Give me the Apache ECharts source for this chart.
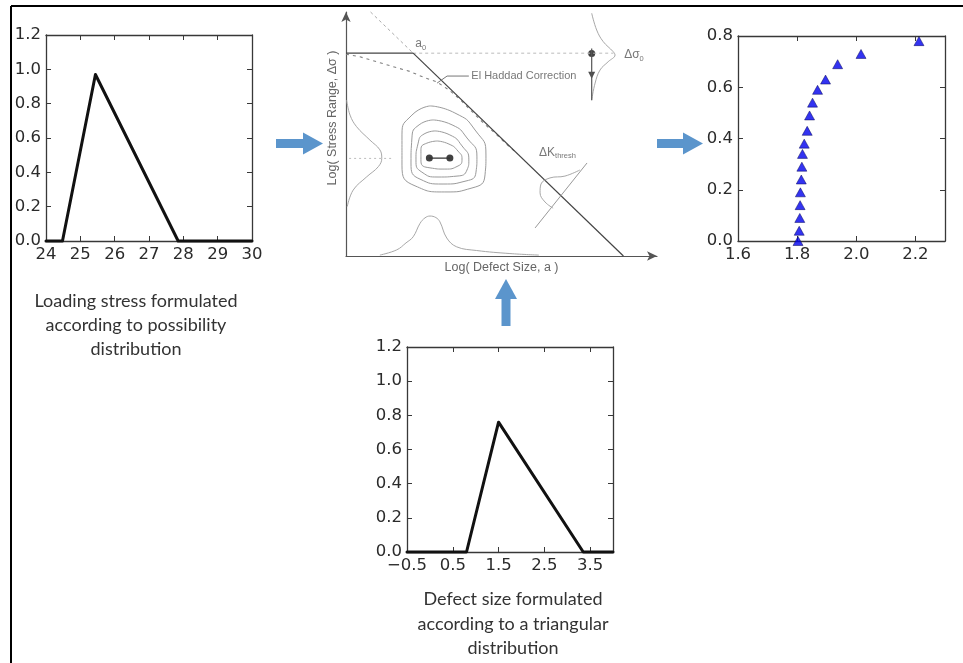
<!DOCTYPE html>
<html>
<head>
<meta charset="utf-8">
<script src="https://cdn.jsdelivr.net/npm/echarts@6/dist/echarts.min.js"></script>
<style>
  html, body { margin: 0; padding: 0; background: #fff; }
  #chart { width: 963px; height: 663px; }
</style>
</head>
<body>
<div id="chart"></div>
<script>
// ---- Loading stress: possibility distribution ----
const stressX = [24, 24.48, 25.44, 27.85, 30];
const stressY = [0, 0, 0.97, 0, 0];
const stressTicksX = [24, 25, 26, 27, 28, 29, 30];
const membershipTicks = [0, 0.2, 0.4, 0.6, 0.8, 1.0, 1.2];

// ---- Defect size: triangular distribution ----
const defectX = [-0.5, 0.8, 1.5, 3.35, 4.0];
const defectY = [0, 0, 0.76, 0, 0];
const defectTicksX = [-0.5, 0.5, 1.5, 2.5, 3.5];

// ---- Output: membership level vs. result ----
const resultX = [1.803, 1.807, 1.809, 1.810, 1.811, 1.814, 1.816, 1.818, 1.824, 1.834, 1.842, 1.852, 1.869, 1.896, 1.937, 2.016, 2.212];
const resultY = [0, 0.04, 0.09, 0.14, 0.19, 0.24, 0.29, 0.34, 0.38, 0.43, 0.49, 0.54, 0.59, 0.63, 0.69, 0.73, 0.78];
const resultTicksX = [1.6, 1.8, 2.0, 2.2];
const resultTicksY = [0, 0.2, 0.4, 0.6, 0.8];

// ---- Kitagawa-Takahashi schematic (log a, log stress range), arbitrary units ----
const ktPlateau = [[0, 6.65], [2.16, 6.65]];
const ktThreshold = [[2.16, 6.65], [8.92, 0]];
const ktExtension = [[0.79, 8.0], [2.16, 6.65]];
const ktGuide = [[2.16, 6.65], [8.6, 6.65]];
const elHaddad = [[0, 6.62], [0.45, 6.53], [0.99, 6.37], [1.51, 6.21], [2.06, 6.05], [2.54, 5.84], [2.92, 5.71],
  [3.34, 5.42], [3.67, 5.13], [3.99, 4.80], [4.41, 4.37], [4.85, 3.97], [5.17, 3.66], [5.5, 3.36]];
const elHaddadLeader = [[2.93, 5.67], [3.25, 5.90], [3.95, 5.90]];
const contour1 = [[2.70, 4.92], [3.50, 4.69], [4.15, 4.13], [4.50, 3.31], [4.47, 2.66], [4.05, 2.23], [3.18, 2.10], [2.22, 2.30], [1.80, 2.98], [1.80, 3.97], [2.12, 4.62], [2.70, 4.92]];
const contour2 = [[2.80, 4.46], [3.41, 4.30], [3.89, 3.87], [4.21, 3.25], [4.18, 2.75], [3.86, 2.46], [3.12, 2.36], [2.38, 2.52], [2.09, 3.05], [2.12, 3.87], [2.35, 4.30], [2.80, 4.46]];
const contour3 = [[2.86, 4.10], [3.34, 3.97], [3.73, 3.61], [3.95, 3.15], [3.89, 2.82], [3.57, 2.62], [2.96, 2.59], [2.44, 2.75], [2.25, 3.15], [2.32, 3.70], [2.51, 4.00], [2.86, 4.10]];
const contour4 = [[2.93, 3.77], [3.31, 3.67], [3.60, 3.44], [3.73, 3.18], [3.60, 2.95], [3.18, 2.85], [2.70, 2.89], [2.41, 3.11], [2.41, 3.48], [2.60, 3.70], [2.93, 3.77]];
const stressBell = [[0.02, 5.11], [0.13, 4.62], [0.34, 4.24], [0.77, 3.80], [1.09, 3.48], [1.15, 3.20], [1.04, 2.93], [0.67, 2.60], [0.23, 2.16], [0.04, 1.62]];
const stressGuide = [[0.1, 3.2], [1.5, 3.2]];
const defectBell = [[1.09, 0.03], [1.63, 0.20], [1.93, 0.43], [2.16, 0.63], [2.38, 1.07], [2.54, 1.25], [2.70, 1.31], [2.89, 1.26], [3.02, 1.12], [3.24, 0.59], [3.56, 0.30], [4.20, 0.18], [5.27, 0.08], [6.2, 0.03]];
const plateauBell = [[7.90, 7.96], [8.06, 7.41], [8.27, 7.03], [8.59, 6.70], [8.65, 6.59], [8.43, 6.37], [8.17, 6.10], [8.01, 5.67], [7.90, 5.11]];
const plateauAxis = [[7.90, 6.80], [7.90, 5.11]];
const thresholdAxis = [[6.08, 0.92], [7.75, 3.05]];
const thresholdBell = [[7.52, 2.82], [7.04, 2.62], [6.56, 2.56], [6.27, 2.36], [6.24, 2.07], [6.40, 1.77], [6.66, 1.57]];
const meanShift = [[2.68, 3.21], [3.34, 3.21]];
const plateauMarker = [[7.90, 6.64]];
const plateauArrow = [[7.90, 5.93]];

const zip = (xs, ys) => xs.map((x, i) => [x, ys[i]]);
const fmt1 = v => v.toFixed(1).replace('-', '\u2212');

const axisColor = '#383838';
function panelAxes(g, xr, yr, xTicks, yTicks, xFmt, yFmt) {
  const line = { show: true, onZero: false, lineStyle: { color: axisColor, width: 1.3 } };
  const tick = vals => ({ show: true, inside: true, length: 5, customValues: vals, lineStyle: { color: axisColor, width: 1 } });
  const label = (vals, f) => ({ show: true, customValues: vals, formatter: f, fontFamily: 'DejaVu Sans', fontSize: 16.5, color: '#2b2b2b', margin: 5 });
  return {
    x: [
      { gridIndex: g, type: 'value', min: xr[0], max: xr[1], position: 'bottom', axisLine: line, axisTick: tick(xTicks), axisLabel: label(xTicks, xFmt), splitLine: { show: false } },
      { gridIndex: g, type: 'value', min: xr[0], max: xr[1], position: 'top', axisLine: line, axisTick: tick(xTicks), axisLabel: { show: false }, splitLine: { show: false } }
    ],
    y: [
      { gridIndex: g, type: 'value', min: yr[0], max: yr[1], position: 'left', axisLine: line, axisTick: tick(yTicks), axisLabel: label(yTicks, yFmt), splitLine: { show: false } },
      { gridIndex: g, type: 'value', min: yr[0], max: yr[1], position: 'right', axisLine: line, axisTick: tick(yTicks), axisLabel: { show: false }, splitLine: { show: false } }
    ]
  };
}

const pStress = panelAxes(0, [24, 30], [0, 1.2], stressTicksX, membershipTicks, v => String(v), fmt1);
const pResult = panelAxes(1, [1.6, 2.3], [0, 0.8], resultTicksX, resultTicksY, fmt1, fmt1);
const pDefect = panelAxes(2, [-0.5, 4.0], [0, 1.2], defectTicksX, membershipTicks, fmt1, fmt1);

const schemColor = '#555';
const schemAxisLine = { show: true, onZero: false, symbol: ['none', 'arrow'], symbolSize: [7, 10], lineStyle: { color: schemColor, width: 1.2 } };
const schemFont = { fontFamily: 'Liberation Sans', fontSize: 12.5, color: '#666' };

const xAxes = [...pStress.x, ...pResult.x, ...pDefect.x, {
  gridIndex: 3, type: 'value', min: 0, max: 10, axisLine: schemAxisLine, axisTick: { show: false }, axisLabel: { show: false }, splitLine: { show: false },
  name: 'Log( Defect Size, a )', nameLocation: 'middle', nameGap: 5, nameTextStyle: Object.assign({ verticalAlign: 'top' }, schemFont)
}];
const yAxes = [...pStress.y, ...pResult.y, ...pDefect.y, {
  gridIndex: 3, type: 'value', min: 0, max: 8, axisLine: schemAxisLine, axisTick: { show: false }, axisLabel: { show: false }, splitLine: { show: false }
}];

const triLine = (xi, data) => ({
  type: 'line', xAxisIndex: xi, yAxisIndex: xi, data, symbol: 'none', clip: false, silent: true,
  lineStyle: { color: '#111', width: 3, join: 'round', cap: 'round' }
});

function sketch(data, color, width, type, extra) {
  return Object.assign({
    type: 'line', xAxisIndex: 6, yAxisIndex: 6, data, symbol: 'none', clip: false, silent: true,
    lineStyle: { color, width, type: type || 'solid' }
  }, extra || {});
}

function note(pos, text, rich) {
  return {
    type: 'scatter', xAxisIndex: 6, yAxisIndex: 6, symbolSize: 0, silent: true,
    data: [{ value: pos }],
    label: { show: true, position: 'inside', formatter: text, fontFamily: 'Liberation Sans', fontSize: 11, color: '#555', rich: rich || {} }
  };
}

const subRich = {
  m: { fontFamily: 'Liberation Sans', fontSize: 12, color: '#555', lineHeight: 15, verticalAlign: 'middle' },
  s: { fontFamily: 'Liberation Sans', fontSize: 7.5, color: '#555', lineHeight: 15, verticalAlign: 'bottom' }
};

const series = [
  triLine(0, zip(stressX, stressY)),
  {
    type: 'scatter', xAxisIndex: 2, yAxisIndex: 2, data: zip(resultX, resultY), symbol: 'triangle', symbolSize: [10, 9],
    itemStyle: { color: '#0000ee', borderColor: '#000055', borderWidth: 0.6 }, silent: true
  },
  triLine(4, zip(defectX, defectY)),

  sketch(ktExtension, '#aaa', 1, [3, 3]),
  sketch(ktGuide, '#bbb', 1, [3, 3]),
  sketch(stressGuide, '#bbb', 1, [2, 3]),
  sketch(elHaddad, '#808080', 1.1, [3, 4]),
  sketch(ktPlateau, '#444', 1.2),
  sketch(ktThreshold, '#444', 1.2),
  sketch(elHaddadLeader, '#777', 1),
  sketch(contour1, '#9a9a9a', 1, 'solid', { smooth: 0.6 }),
  sketch(contour2, '#9a9a9a', 1, 'solid', { smooth: 0.6 }),
  sketch(contour3, '#9a9a9a', 1, 'solid', { smooth: 0.6 }),
  sketch(contour4, '#9a9a9a', 1, 'solid', { smooth: 0.6 }),
  sketch(stressBell, '#a8a8a8', 1, 'solid', { smooth: 0.4 }),
  sketch(defectBell, '#a8a8a8', 1, 'solid', { smooth: 0.4 }),
  sketch(plateauBell, '#a8a8a8', 1, 'solid', { smooth: 0.4 }),
  sketch(plateauAxis, '#555', 1.2),
  sketch(thresholdAxis, '#999', 1),
  sketch(thresholdBell, '#a8a8a8', 1, 'solid', { smooth: 0.4 }),
  sketch(meanShift, '#333', 1.2),
  {
    type: 'scatter', xAxisIndex: 6, yAxisIndex: 6, data: [...meanShift, ...plateauMarker], symbolSize: 7,
    itemStyle: { color: '#111' }, silent: true
  },
  {
    type: 'scatter', xAxisIndex: 6, yAxisIndex: 6, data: plateauArrow, symbol: 'triangle', symbolRotate: 180, symbolSize: [7, 7],
    itemStyle: { color: '#222' }, silent: true
  },
  note([2.40, 6.95], '{m|a}{s|0}', subRich),
  note([9.26, 6.59], '{m|\u0394\u03c3}{s|0}', subRich),
  note([5.72, 5.90], 'El Haddad Correction'),
  note([6.80, 3.38], '{m|\u0394K}{s|thresh}', subRich)
];

const arrowBlue = '#5b95cc';
function rightArrow(x0, x1, y) {
  return [
    { type: 'rect', shape: { x: x0, y: y - 4.5, width: x1 - x0 - 18, height: 9 }, style: { fill: arrowBlue } },
    { type: 'polygon', shape: { points: [[x1 - 20, y - 11], [x1, y], [x1 - 20, y + 11]] }, style: { fill: arrowBlue } }
  ];
}
function upArrow(x, y0, y1) {
  return [
    { type: 'rect', shape: { x: x - 4.5, y: y1 + 18, width: 9, height: y0 - y1 - 18 }, style: { fill: arrowBlue } },
    { type: 'polygon', shape: { points: [[x - 11, y1 + 20], [x, y1], [x + 11, y1 + 20]] }, style: { fill: arrowBlue } }
  ];
}
function caption(x, y, text) {
  return { type: 'text', style: { text, x, y, align: 'center', verticalAlign: 'middle', textAlign: 'center', textVerticalAlign: 'middle', font: '18px Lato', fill: '#333' } };
}

const graphic = [
  { type: 'line', shape: { x1: 11, y1: 6, x2: 963, y2: 6 }, style: { stroke: '#000', lineWidth: 2 } },
  { type: 'line', shape: { x1: 11, y1: 6, x2: 11, y2: 663 }, style: { stroke: '#000', lineWidth: 2 } },
  ...rightArrow(276, 323, 143.5),
  ...rightArrow(657, 703, 143.5),
  ...upArrow(506, 326, 279),
  {
    type: 'text', x: 333, y: 118, rotation: Math.PI / 2,
    style: Object.assign({ text: 'Log( Stress Range, \u0394\u03c3 )', align: 'center', verticalAlign: 'middle', textAlign: 'center', textVerticalAlign: 'middle', font: '12.5px "Liberation Sans"', fill: '#666' })
  },
  caption(136, 301, 'Loading stress formulated'),
  caption(136, 325, 'according to possibility'),
  caption(136, 349, 'distribution'),
  caption(513, 599, 'Defect size formulated'),
  caption(513, 624, 'according to a triangular'),
  caption(513, 648, 'distribution')
];

const chart = echarts.init(document.getElementById('chart'), null, { renderer: 'canvas' });
chart.setOption({
  animation: false,
  backgroundColor: '#fff',
  grid: [
    { left: 46, top: 35, width: 206, height: 206, containLabel: false },
    { left: 738, top: 36, width: 207, height: 205, containLabel: false },
    { left: 407, top: 347, width: 206, height: 205, containLabel: false },
    { left: 346, top: 12, width: 311, height: 244, containLabel: false }
  ],
  xAxis: xAxes,
  yAxis: yAxes,
  series,
  graphic
});
</script>
</body>
</html>
